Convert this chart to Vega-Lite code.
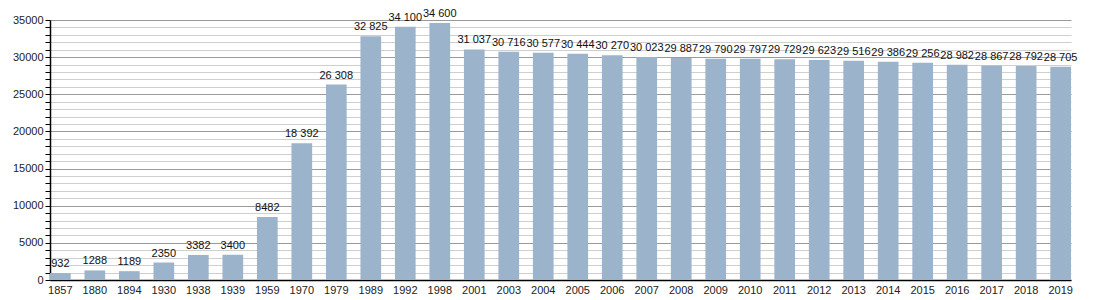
{
  "$schema": "https://vega.github.io/schema/vega-lite/v6.json",
  "width": 1021,
  "height": 260,
  "autosize": {"type": "none"},
  "padding": {"left": 50, "top": 20, "right": 29, "bottom": 20},
  "background": "white",
  "data": {"values": [
    {"year": "1857", "pop": 932, "label": "932"},
    {"year": "1880", "pop": 1288, "label": "1288"},
    {"year": "1894", "pop": 1189, "label": "1189"},
    {"year": "1930", "pop": 2350, "label": "2350"},
    {"year": "1938", "pop": 3382, "label": "3382"},
    {"year": "1939", "pop": 3400, "label": "3400"},
    {"year": "1959", "pop": 8482, "label": "8482"},
    {"year": "1970", "pop": 18392, "label": "18 392"},
    {"year": "1979", "pop": 26308, "label": "26 308"},
    {"year": "1989", "pop": 32825, "label": "32 825"},
    {"year": "1992", "pop": 34100, "label": "34 100"},
    {"year": "1998", "pop": 34600, "label": "34 600"},
    {"year": "2001", "pop": 31037, "label": "31 037"},
    {"year": "2003", "pop": 30716, "label": "30 716"},
    {"year": "2004", "pop": 30577, "label": "30 577"},
    {"year": "2005", "pop": 30444, "label": "30 444"},
    {"year": "2006", "pop": 30270, "label": "30 270"},
    {"year": "2007", "pop": 30023, "label": "30 023"},
    {"year": "2008", "pop": 29887, "label": "29 887"},
    {"year": "2009", "pop": 29790, "label": "29 790"},
    {"year": "2010", "pop": 29797, "label": "29 797"},
    {"year": "2011", "pop": 29729, "label": "29 729"},
    {"year": "2012", "pop": 29623, "label": "29 623"},
    {"year": "2013", "pop": 29516, "label": "29 516"},
    {"year": "2014", "pop": 29386, "label": "29 386"},
    {"year": "2015", "pop": 29256, "label": "29 256"},
    {"year": "2016", "pop": 28982, "label": "28 982"},
    {"year": "2017", "pop": 28867, "label": "28 867"},
    {"year": "2018", "pop": 28792, "label": "28 792"},
    {"year": "2019", "pop": 28705, "label": "28 705"}
  ]},
  "config": {
    "view": {"stroke": null},
    "font": "Liberation Sans"
  },
  "encoding": {
    "x": {
      "field": "year", "type": "ordinal", "sort": null,
      "scale": {"paddingInner": 0.4, "paddingOuter": 0},
      "axis": {
        "title": null, "labelAngle": 0, "ticks": false, "labelPadding": 4,
        "domainColor": "black", "domainWidth": 1.5, "labelFontSize": 11,
        "labelColor": "#222", "grid": false, "labelFont": "Liberation Sans"
      }
    },
    "y": {
      "field": "pop", "type": "quantitative",
      "scale": {"domain": [0, 35000], "nice": false},
      "axis": {
        "title": null,
        "values": [0,1000,2000,3000,4000,5000,6000,7000,8000,9000,10000,11000,12000,13000,14000,15000,16000,17000,18000,19000,20000,21000,22000,23000,24000,25000,26000,27000,28000,29000,30000,31000,32000,33000,34000,35000],
        "labelExpr": "datum.value % 5000 === 0 ? format(datum.value, 'd') : ''",
        "gridColor": {"condition": {"test": "datum.value % 5000 === 0", "value": "#9a9a9a"}, "value": "#cfcfcf"},
        "grid": true,
        "tickColor": "black", "tickSize": 5,
        "domainColor": "black", "domainWidth": 1.5,
        "labelFontSize": 11, "labelColor": "#222", "labelPadding": 2,
        "labelFont": "Liberation Sans"
      }
    }
  },
  "layer": [
    {"mark": {"type": "bar", "color": "#9cb3cc"}},
    {
      "mark": {"type": "text", "baseline": "bottom", "dy": -4, "fontSize": 11, "color": "#111", "font": "Liberation Sans"},
      "encoding": {"text": {"field": "label"}}
    }
  ]
}
